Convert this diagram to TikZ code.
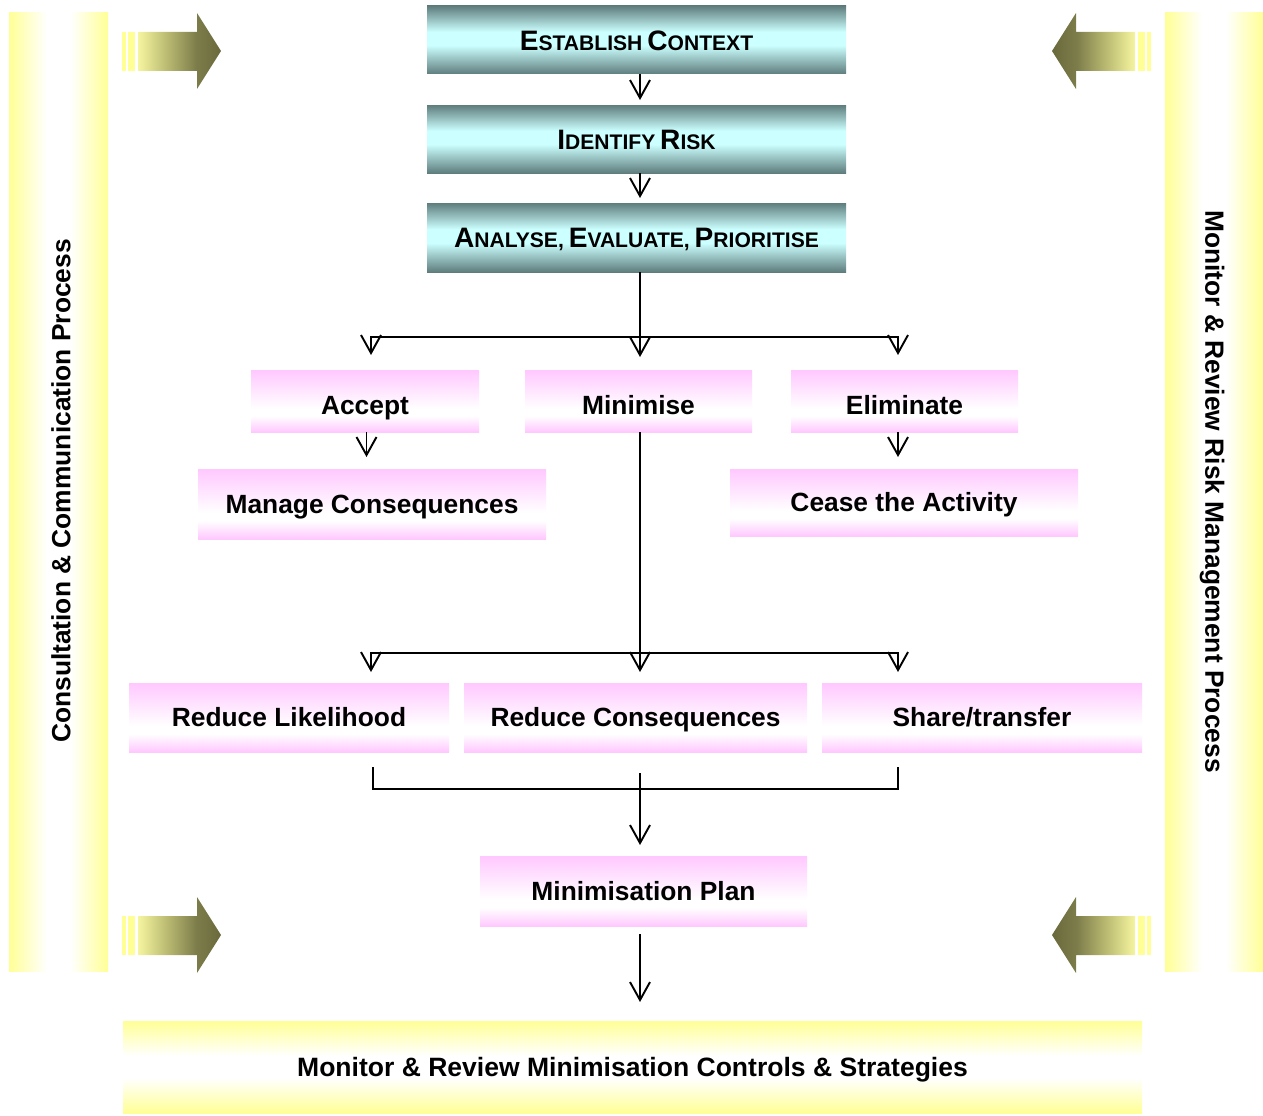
\documentclass[tikz,border=0pt]{standalone}
\usepackage{fontspec}
\setmainfont{Liberation Sans}
\usetikzlibrary{arrows.meta,calc}
\definecolor{tdark}{RGB}{95,125,125}
\definecolor{tlight}{RGB}{204,255,255}
\definecolor{pinkc}{RGB}{255,200,255}
\definecolor{ylw}{RGB}{255,255,150}
\definecolor{olivelt}{RGB}{245,245,160}
\definecolor{olivemid}{RGB}{188,188,115}
\definecolor{oliveA}{RGB}{125,125,75}
\definecolor{oliveB}{RGB}{105,105,60}
\pgfdeclareverticalshading{tealsh}{100bp}{color(0bp)=(tdark); color(25bp)=(tdark); color(46bp)=(tlight); color(56bp)=(tlight); color(75bp)=(tdark); color(100bp)=(tdark)}
\pgfdeclareverticalshading{pinksh}{100bp}{color(0bp)=(pinkc); color(25bp)=(pinkc); color(38bp)=(white); color(44bp)=(white); color(75bp)=(pinkc); color(100bp)=(pinkc)}
\pgfdeclarehorizontalshading{ybarh}{100bp}{color(0bp)=(ylw); color(25bp)=(ylw); color(44bp)=(white); color(56bp)=(white); color(75bp)=(ylw); color(100bp)=(ylw)}
\pgfdeclareverticalshading{ybarv}{100bp}{color(0bp)=(ylw); color(25bp)=(ylw); color(44bp)=(white); color(56bp)=(white); color(75bp)=(ylw); color(100bp)=(ylw)}
\pgfdeclarehorizontalshading{arrsh}{100bp}{color(0bp)=(olivelt); color(25bp)=(olivelt); color(42bp)=(olivemid); color(60bp)=(oliveA); color(75bp)=(oliveB); color(100bp)=(oliveB)}
\newcommand\scap[2]{{\fontsize{16}{19}\selectfont #1}{\fontsize{12}{14}\selectfont #2}}
\begin{document}
\begin{tikzpicture}[x=0.02cm,y=-0.02cm,
  wh/.style 2 args={minimum width=#1*0.02cm, minimum height=#2*0.02cm},
  box/.style={inner sep=0pt, outer sep=0pt, draw=none, align=center},
  tealbox/.style={box, shading=tealsh, font=\bfseries, text height=11.5pt, text depth=0pt},
  pinkbox/.style={box, shading=pinksh, font=\bfseries\fontsize{15}{18}\selectfont, text height=10.7pt, text depth=0pt},
  toprow/.style={text height=15.8pt},
  sidetext/.style={inner sep=0pt, font=\bfseries\fontsize{15}{18}\selectfont},
  conn/.style={line width=1.1pt, black},
  arr/.style={conn, -{Straight Barb[length=0.36cm,width=0.4cm]}},
]
\useasboundingbox (0,0) rectangle (1263,1115);
% side bars and bottom bar
\node[box, shading=ybarh, wh={99}{958}] (lb) at (58.5,492) {};
\node[sidetext, rotate=90] (lbt) at (61,491) {Consultation \& Communication Process};
\node[box, shading=ybarh, wh={98}{958}] (rb) at (1214,492) {};
\node[sidetext, rotate=-90] (rbt) at (1212,491.5) {Monitor \& Review Risk Management Process};
\node[box, shading=ybarv, wh={1019}{92}, font=\bfseries\fontsize{15.1}{18}\selectfont, text height=10.7pt, text depth=0pt] (bb) at (632.5,1067) {Monitor \& Review Minimisation Controls \& Strategies};
% side arrows
\foreach \dy in {0,884}{
  \fill[ylw] (122,32+\dy) rectangle (126,71+\dy);
  \fill[ylw] (128,32+\dy) rectangle (135,71+\dy);
  \shade[shading=arrsh] (138,32+\dy) -- (197,32+\dy) -- (197,13+\dy) -- (221,51+\dy) -- (197,89+\dy) -- (197,71+\dy) -- (138,71+\dy) -- cycle;
  \fill[ylw] (1147,32+\dy) rectangle (1151,71+\dy);
  \fill[ylw] (1138,32+\dy) rectangle (1145,71+\dy);
  \shade[shading=arrsh, shading angle=180] (1135,32+\dy) -- (1076,32+\dy) -- (1076,13+\dy) -- (1052,51+\dy) -- (1076,89+\dy) -- (1076,71+\dy) -- (1135,71+\dy) -- cycle;
}
% teal boxes
\node[tealbox, wh={419}{68}] (ec) at (636.5,40) {\scap{E}{STABLISH} \scap{C}{ONTEXT}};
\node[tealbox, wh={419}{68}] (ir) at (636.5,139) {\scap{I}{DENTIFY} \scap{R}{ISK}};
\node[tealbox, wh={419}{69}] (ae) at (636.5,237.5) {\scap{A}{NALYSE,} \scap{E}{VALUATE,} \scap{P}{RIORITISE}};
% pink boxes
\node[pinkbox, toprow, wh={228}{62}] (acc) at (365,401) {Accept};
\node[pinkbox, toprow, wh={227}{62}] (min) at (638.5,401) {Minimise};
\node[pinkbox, toprow, wh={227}{62}] (eli) at (904.5,401) {Eliminate};
\node[pinkbox, wh={348}{70}] (mc) at (372,504) {Manage Consequences};
\node[pinkbox, wh={348}{67}] (ca) at (904,502.5) {Cease the Activity};
\node[pinkbox, wh={320}{69}] (rl) at (289,717.5) {Reduce Likelihood};
\node[pinkbox, wh={343}{69}] (rc) at (635.5,717.5) {Reduce Consequences};
\node[pinkbox, wh={320}{69}] (st) at (982,717.5) {Share/transfer};
\node[pinkbox, wh={327}{70}] (mp) at (643.5,891) {Minimisation Plan};
% connectors
\coordinate (ax) at (640,0);
\coordinate (ex) at (898,0);
\coordinate (j1l) at (371,337);
\coordinate (j1r) at (898,337);
\coordinate (j2l) at (371,653);
\coordinate (j2r) at (898,653);
\coordinate (kl) at (373,789);
\coordinate (kr) at (898,789);
\draw[arr, shorten >=0.1cm] (ec.south -| ax) -- (ir.north -| ax);
\draw[arr, shorten >=0.1cm] (ir.south -| ax) -- (ae.north -| ax);
\draw[arr, shorten >=0.26cm] (ae.south -| ax) -- (min.north -| ax);
\draw[arr, shorten >=0.3cm] (j1r) -- (j1l) -- (j1l |- acc.north);
\draw[arr, shorten >=0.3cm] (j1l) -- (j1r) -- (j1r |- eli.north);
\draw[arr, shorten >=0.24cm] ($(acc.south)+(1.5,0)$) -- ($(acc.south |- mc.north)+(1.5,0)$);
\draw[arr, shorten >=0.24cm] (eli.south -| ex) -- (ca.north -| ex);
\draw[arr, shorten >=0.22cm] (min.south -| ax) -- (rc.north -| ax);
\draw[arr, shorten >=0.22cm] (j2r) -- (j2l) -- (j2l |- rl.north);
\draw[arr, shorten >=0.22cm] (j2l) -- (j2r) -- (j2r |- st.north);
\draw[conn, shorten <=0.3cm, shorten >=0.3cm] (rl.south -| kl) -- (kl) -- (kr) -- (st.south -| kr);
\draw[arr, shorten <=0.42cm, shorten >=0.22cm] (rc.south -| ax) -- (mp.north -| ax);
\draw[arr, shorten <=0.16cm, shorten >=0.38cm] (mp.south -| ax) -- (bb.north -| ax);
\end{tikzpicture}
\end{document}
